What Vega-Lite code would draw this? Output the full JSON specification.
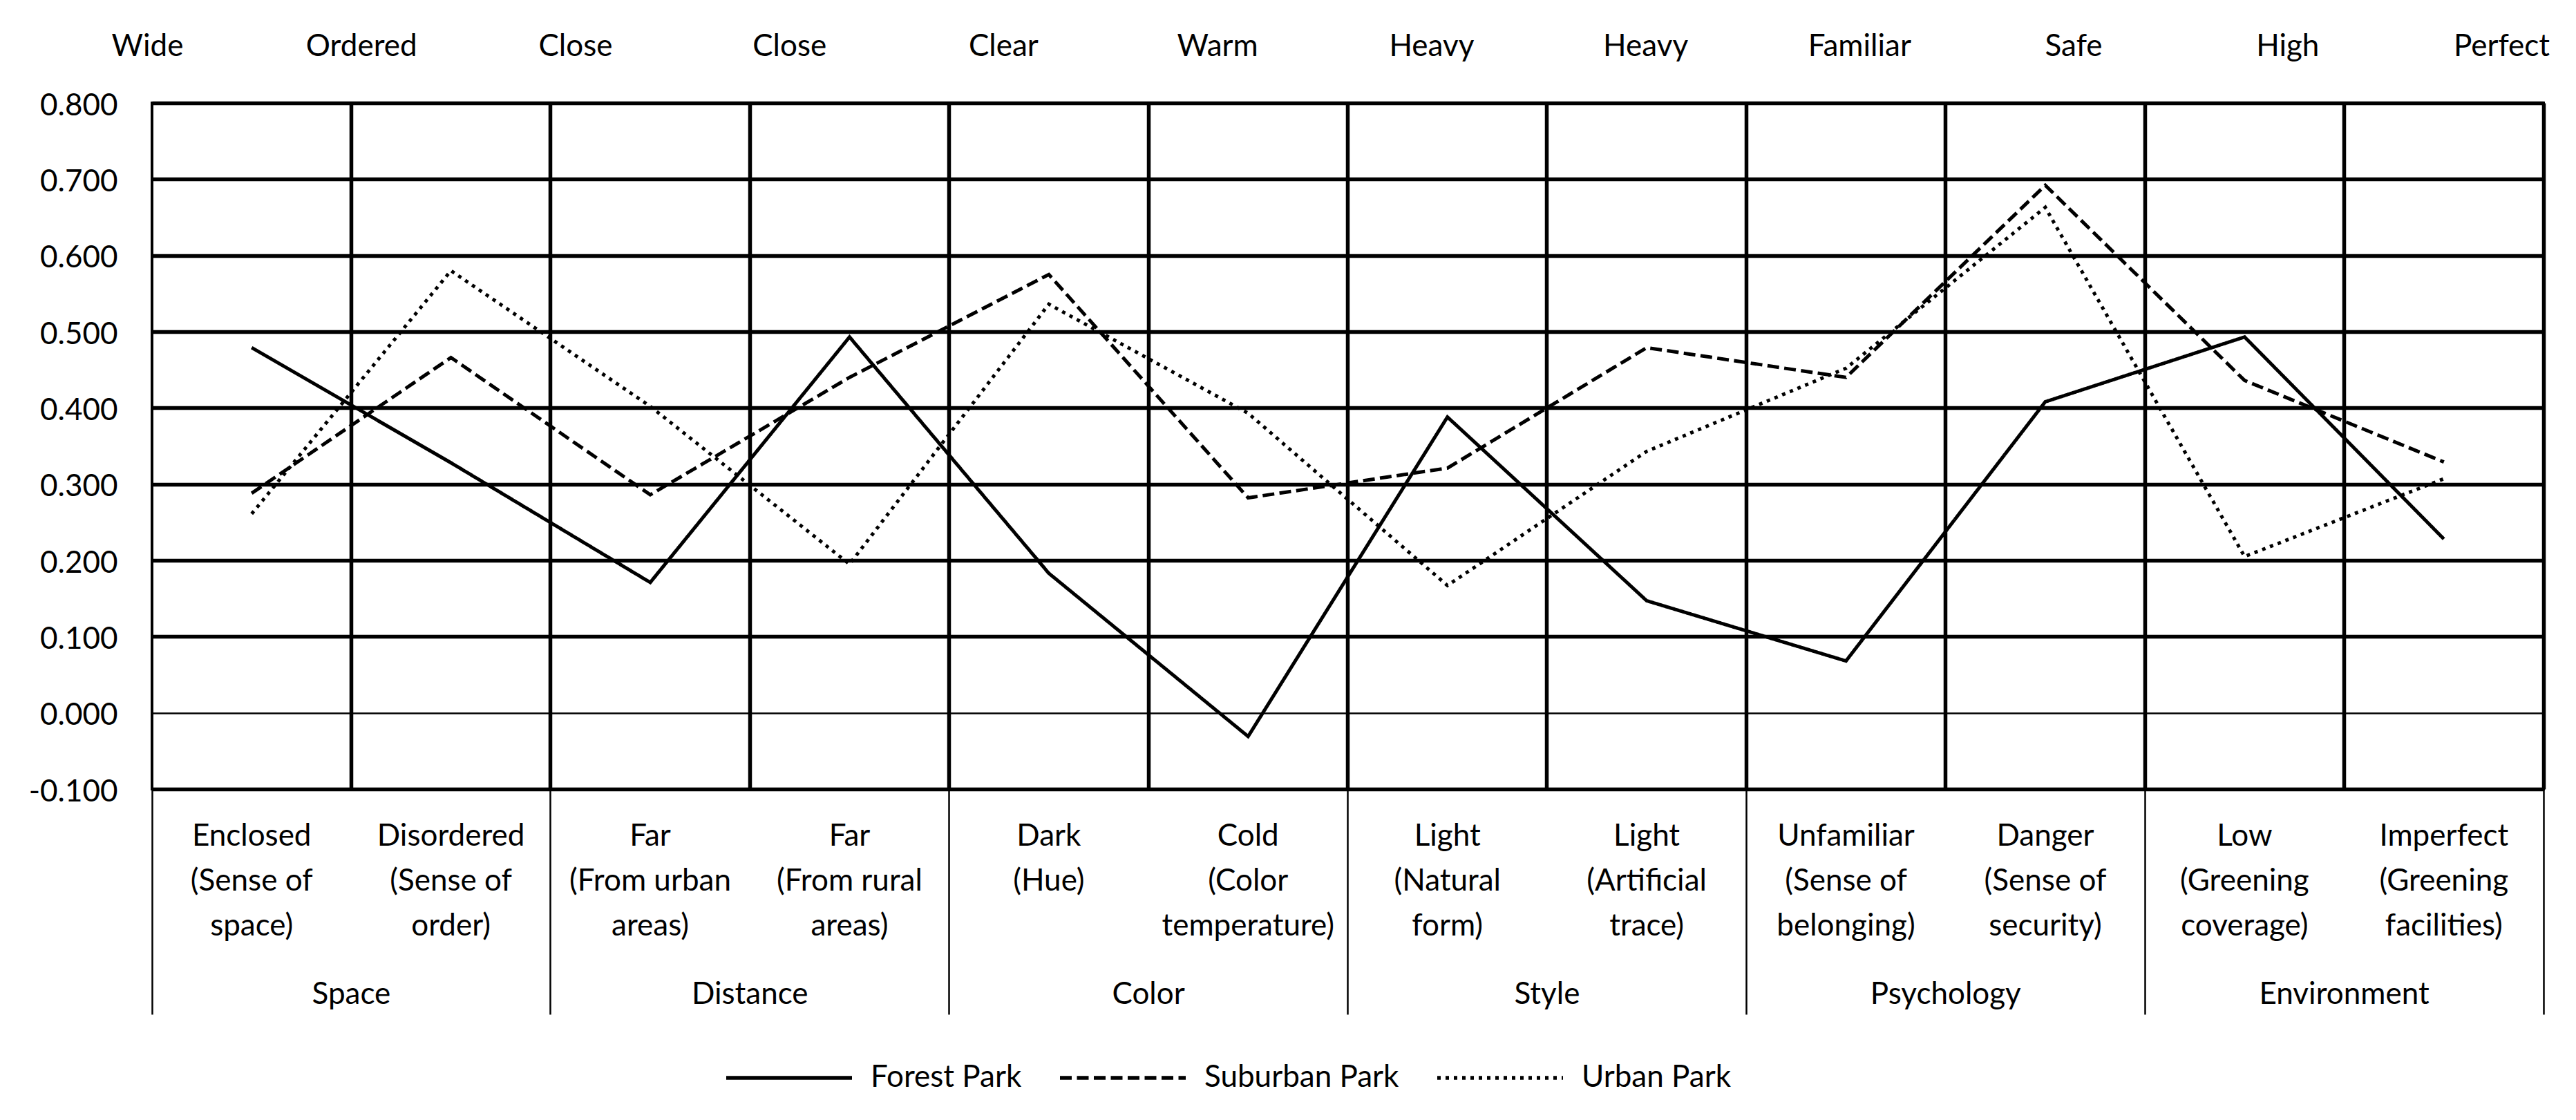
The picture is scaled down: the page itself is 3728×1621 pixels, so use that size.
{
  "$schema": "https://vega.github.io/schema/vega-lite/v6.json",
  "width": 3461,
  "height": 993,
  "autosize": {"type": "none"},
  "padding": {"left": 220, "top": 149, "right": 47, "bottom": 479},
  "background": "white",
  "config": {
    "font": "Lato",
    "view": {"stroke": "black", "strokeWidth": 4},
    "axis": {"labelFont": "Lato", "labelFontSize": 44, "labelColor": "black", "gridColor": "black", "gridOpacity": 1, "tickColor": "black", "labelOverlap": false, "labelFlush": false, "labelLimit": 0, "title": null},
    "legend": {"labelFont": "Lato", "labelFontSize": 44, "labelColor": "black", "labelLimit": 0}
  },
  "data": {
    "values": [
      {"park": "Forest Park", "group": "Space", "key": "Wide|Enclosed|(Sense of|space)", "score": 0.479},
      {"park": "Forest Park", "group": "Space", "key": "Ordered|Disordered|(Sense of|order)", "score": 0.328},
      {"park": "Forest Park", "group": "Distance", "key": "Close|Far|(From urban|areas)", "score": 0.171},
      {"park": "Forest Park", "group": "Distance", "key": "Close |Far|(From rural|areas)", "score": 0.493},
      {"park": "Forest Park", "group": "Color", "key": "Clear|Dark|(Hue)", "score": 0.183},
      {"park": "Forest Park", "group": "Color", "key": "Warm|Cold|(Color|temperature)", "score": -0.031},
      {"park": "Forest Park", "group": "Style", "key": "Heavy|Light|(Natural|form)", "score": 0.388},
      {"park": "Forest Park", "group": "Style", "key": "Heavy |Light|(Artificial|trace)", "score": 0.147},
      {"park": "Forest Park", "group": "Psychology", "key": "Familiar|Unfamiliar|(Sense of|belonging)", "score": 0.068},
      {"park": "Forest Park", "group": "Psychology", "key": "Safe|Danger|(Sense of|security)", "score": 0.408},
      {"park": "Forest Park", "group": "Environment", "key": "High|Low|(Greening|coverage)", "score": 0.493},
      {"park": "Forest Park", "group": "Environment", "key": "Perfect|Imperfect|(Greening|facilities)", "score": 0.228},
      {"park": "Suburban Park", "group": "Space", "key": "Wide|Enclosed|(Sense of|space)", "score": 0.288},
      {"park": "Suburban Park", "group": "Space", "key": "Ordered|Disordered|(Sense of|order)", "score": 0.466},
      {"park": "Suburban Park", "group": "Distance", "key": "Close|Far|(From urban|areas)", "score": 0.286},
      {"park": "Suburban Park", "group": "Distance", "key": "Close |Far|(From rural|areas)", "score": 0.44},
      {"park": "Suburban Park", "group": "Color", "key": "Clear|Dark|(Hue)", "score": 0.575},
      {"park": "Suburban Park", "group": "Color", "key": "Warm|Cold|(Color|temperature)", "score": 0.282},
      {"park": "Suburban Park", "group": "Style", "key": "Heavy|Light|(Natural|form)", "score": 0.321},
      {"park": "Suburban Park", "group": "Style", "key": "Heavy |Light|(Artificial|trace)", "score": 0.479},
      {"park": "Suburban Park", "group": "Psychology", "key": "Familiar|Unfamiliar|(Sense of|belonging)", "score": 0.44},
      {"park": "Suburban Park", "group": "Psychology", "key": "Safe|Danger|(Sense of|security)", "score": 0.692},
      {"park": "Suburban Park", "group": "Environment", "key": "High|Low|(Greening|coverage)", "score": 0.436},
      {"park": "Suburban Park", "group": "Environment", "key": "Perfect|Imperfect|(Greening|facilities)", "score": 0.329},
      {"park": "Urban Park", "group": "Space", "key": "Wide|Enclosed|(Sense of|space)", "score": 0.261},
      {"park": "Urban Park", "group": "Space", "key": "Ordered|Disordered|(Sense of|order)", "score": 0.58},
      {"park": "Urban Park", "group": "Distance", "key": "Close|Far|(From urban|areas)", "score": 0.402},
      {"park": "Urban Park", "group": "Distance", "key": "Close |Far|(From rural|areas)", "score": 0.195},
      {"park": "Urban Park", "group": "Color", "key": "Clear|Dark|(Hue)", "score": 0.536},
      {"park": "Urban Park", "group": "Color", "key": "Warm|Cold|(Color|temperature)", "score": 0.393},
      {"park": "Urban Park", "group": "Style", "key": "Heavy|Light|(Natural|form)", "score": 0.167},
      {"park": "Urban Park", "group": "Style", "key": "Heavy |Light|(Artificial|trace)", "score": 0.343},
      {"park": "Urban Park", "group": "Psychology", "key": "Familiar|Unfamiliar|(Sense of|belonging)", "score": 0.452},
      {"park": "Urban Park", "group": "Psychology", "key": "Safe|Danger|(Sense of|security)", "score": 0.663},
      {"park": "Urban Park", "group": "Environment", "key": "High|Low|(Greening|coverage)", "score": 0.205},
      {"park": "Urban Park", "group": "Environment", "key": "Perfect|Imperfect|(Greening|facilities)", "score": 0.307}
    ]
  },
  "layer": [
    {
      "mark": {"type": "line", "color": "black", "strokeWidth": 5},
      "encoding": {
        "x": {
          "field": "key", "type": "nominal", "sort": null,
          "scale": {"type": "band", "paddingInner": 0, "paddingOuter": 0},
          "axis": {
            "orient": "bottom",
            "bandPosition": 1,
            "domain": false,
            "grid": true, "gridWidth": 5.5,
            "ticks": true, "tickSize": 326, "tickWidth": 2.5,
            "tickOpacity": {"condition": {"test": "indexof(datum.value, 'Perfect') == 0", "value": 1}, "value": 0},
            "labelExpr": "slice(split(datum.value, '|'), 1)",
            "labelAngle": 0,
            "labelPadding": -279.5,
            "labelBaseline": "top",
            "labelAlign": "center",
            "labelLineHeight": 65
          }
        },
        "y": {
          "field": "score", "type": "quantitative",
          "scale": {"domain": [-0.1, 0.8], "nice": false, "zero": false},
          "axis": {
            "values": [-0.1, 0, 0.1, 0.2, 0.3, 0.4, 0.5, 0.6, 0.7, 0.8],
            "format": ".3f",
            "labelExpr": "replace(datum.label, '\u2212', '-')",
            "domain": false, "ticks": false, "tickSize": 0,
            "grid": true,
            "gridWidth": {"condition": {"test": "datum.value == 0", "value": 2.5}, "value": 5.5},
            "labelPadding": 50,
            "labelOffset": 4
          }
        },
        "strokeDash": {
          "field": "park", "type": "nominal",
          "scale": {"domain": ["Forest Park", "Suburban Park", "Urban Park"], "range": [[1, 0], [17, 7.5], [5, 7]]},
          "legend": {
            "title": null,
            "orient": "none",
            "direction": "horizontal",
            "legendX": 828,
            "legendY": 1317,
            "padding": 0,
            "symbolType": "stroke",
            "symbolSize": 33124,
            "symbolStrokeWidth": 5.5,
            "symbolStrokeColor": "black",
            "labelOffset": 24,
            "columnPadding": 44
          }
        }
      }
    },
    {
      "mark": {"type": "text", "opacity": 0},
      "encoding": {
        "x": {
          "field": "group", "type": "nominal", "sort": null,
          "scale": {"type": "band", "paddingInner": 0, "paddingOuter": 0},
          "axis": {
            "orient": "bottom",
            "bandPosition": 0,
            "domain": false,
            "grid": false,
            "ticks": true, "tickSize": 326, "tickWidth": 2.5,
            "labelAngle": 0,
            "labelPadding": -51,
            "labelBaseline": "top",
            "labelAlign": "center"
          }
        },
        "text": {"field": "group"}
      }
    },
    {
      "mark": {"type": "text", "opacity": 0},
      "encoding": {
        "x": {
          "field": "key", "type": "nominal", "sort": null,
          "scale": {"type": "point", "padding": 0, "range": [-7, 3400]},
          "axis": {
            "orient": "top",
            "domain": false,
            "grid": false,
            "ticks": false, "tickSize": 0,
            "labelAngle": 0,
            "labelExpr": "trim(split(datum.value, '|')[0])",
            "labelPadding": 60,
            "labelAlign": "center"
          }
        },
        "text": {"field": "key"}
      }
    }
  ],
  "resolve": {"scale": {"x": "independent"}, "axis": {"x": "independent"}}
}
